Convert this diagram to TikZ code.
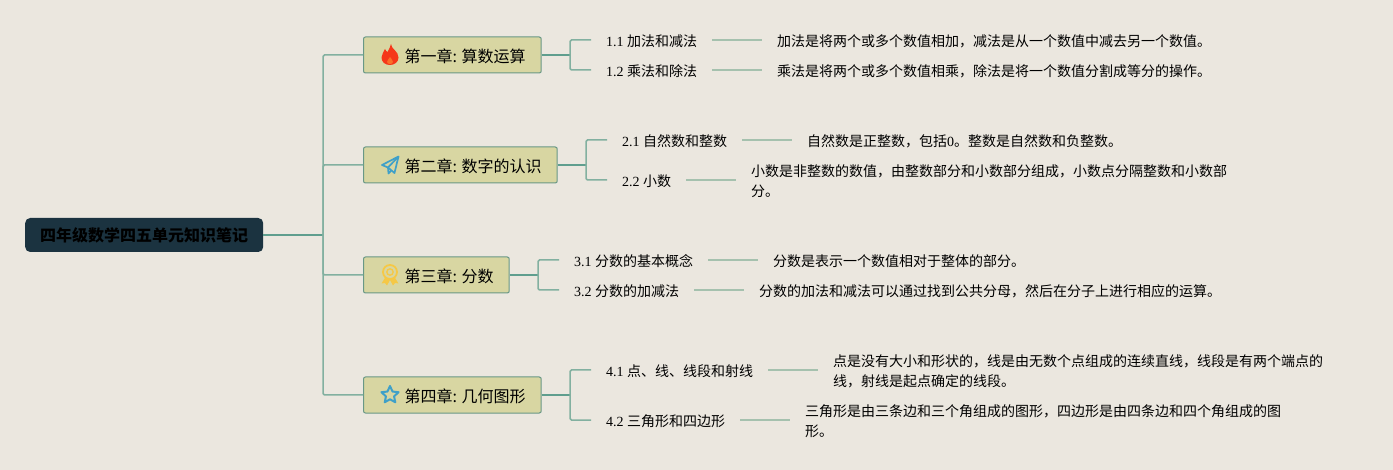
\documentclass[tikz,border=0pt]{standalone}
\usepackage{fontspec}
\setmainfont{Liberation Serif}
\newfontfamily\cjk{Noto Sans CJK SC}
\usetikzlibrary{
  shapes.geometric,
}
\definecolor{paper}{RGB}{235, 231, 223}
\definecolor{rootfill}{RGB}{27, 51, 64}
\definecolor{chapterfill}{RGB}{216, 214, 162}
\definecolor{chapterline}{RGB}{105, 152, 134}
\definecolor{stemline}{RGB}{95, 158, 142}
\definecolor{busline}{RGB}{130, 176, 160}
\definecolor{leafline}{RGB}{165, 193, 174}
\definecolor{iconblue}{RGB}{63, 160, 200}
\definecolor{iconyellow}{RGB}{245, 200, 70}
\definecolor{iconred}{RGB}{245, 55, 25}
\definecolor{iconember}{RGB}{250, 110, 40}
\tikzstyle{rootbox} = [
  anchor=west,
  fill=rootfill,
  rounded corners=5pt,
  minimum width=238pt,
  minimum height=34pt,
  inner sep=0pt,
  font=\fontsize{16}{20}\cjk\bfseries\selectfont,
  text=black,
]
\tikzstyle{chapterbox} = [
  anchor=west,
  draw=chapterline,
  line width=1pt,
  fill=chapterfill,
  rounded corners=2pt,
  minimum height=36pt,
  inner xsep=15.5pt,
  inner ysep=0pt,
  text height=17pt,
  text depth=2pt,
  font=\fontsize{16}{20}\cjk\selectfont,
]
\tikzstyle{leaftext} = [
  anchor=west,
  inner xsep=15pt,
  inner ysep=0pt,
  text height=16pt,
  text depth=2pt,
  font=\fontsize{14}{20}\selectfont,
]
\tikzstyle{desctext} = [
  leaftext,
]
\tikzstyle{desctall} = [
  anchor=west,
  inner xsep=15pt,
  inner ysep=0pt,
  align=left,
  font=\fontsize{14}{20}\selectfont,
]
\tikzstyle{stem} = [
  line width=1.6pt,
  stemline,
]
\tikzstyle{bus} = [
  line width=1.5pt,
  busline,
  rounded corners=1.5pt,
]
\tikzstyle{twig} = [
  line width=1.5pt,
  leafline,
]
\tikzset{
  flame/.pic={
    \fill [iconred] (1,-11) .. controls (1,-6) and (8.5,-4) .. (8.5,2.5)
      .. controls (8.5,7) and (4.5,10) .. (0,10)
      .. controls (-5,10) and (-8.5,7) .. (-8.5,2.5)
      .. controls (-8.5,-1) and (-6,-3) .. (-5,-6)
      .. controls (-4,-4) and (-3.5,-3.5) .. (-2.5,-3)
      .. controls (-1,-5) and (0,-8) .. (1,-11) -- cycle;
    \fill [iconember] (0,2) .. controls (1,4) and (3,5) .. (3,7)
      .. controls (3,8.5) and (1,9) .. (0,9)
      .. controls (-1,9) and (-3,8.5) .. (-3,7)
      .. controls (-3,5) and (-1,4) .. (0,2) -- cycle;
  },
  plane/.pic={
    \draw [iconblue, line width=1.7pt, line join=round]
      (8.5,-8.5) -- (-8,0) -- (-2,2.5) -- (4.5,8) -- cycle;
    \draw [iconblue, line width=1.7pt, line join=round]
      (8.5,-8.5) -- (-2,2.5) -- (-1.5,8.5) -- (1.2,5.5);
  },
  medal/.pic={
    \fill [iconyellow] (-4.5,2) -- (-8.5,8.5) -- (-5,8) -- (-3,10.5) -- (0,5)
      -- (3,10.5) -- (5,8) -- (8.5,8.5) -- (4.5,2) -- cycle;
    \draw [iconyellow, line width=1.8pt, fill=chapterfill] (0,-3) circle (7);
    \draw [iconyellow, line width=1.3pt] (0,-3) circle (3.2);
  },
}
\begin{document}
\begin{tikzpicture}[x=1pt, y=-1pt]
  \useasboundingbox [fill=paper] (0, 0) rectangle (1393, 470);

  \coordinate (spine) at (323, 235);
  \coordinate (bus1) at (570, 55);
  \coordinate (bus2) at (586, 165);
  \coordinate (bus3) at (538, 275);
  \coordinate (bus4) at (570, 395);

  \node [rootbox] (root) at (25, 235) {四年级数学四五单元知识笔记};

  \node [chapterbox] (ch1) at (363, 55) {\hspace*{25.5pt}第一章: 算数运算};
  \node [chapterbox] (ch2) at (363, 165) {\hspace*{25.5pt}第二章: 数字的认识};
  \node [chapterbox] (ch3) at (363, 275) {\hspace*{25.5pt}第三章: 分数};
  \node [chapterbox] (ch4) at (363, 395) {\hspace*{25.5pt}第四章: 几何图形};

  \pic at (390, 55) {flame};
  \pic at (390, 165) {plane};
  \pic at (390, 275) {medal};
  \node [star, star points=5, star point ratio=2.1, draw=iconblue, line width=2pt, line join=round, minimum size=18pt, inner sep=0pt] (starmark) at (390, 395) {};

  \node [leaftext] (leaf11) at (591, 40) {1.1 {\cjk 加法和减法}};
  \node [leaftext] (leaf12) at (591, 70) {1.2 {\cjk 乘法和除法}};
  \node [leaftext] (leaf21) at (607, 140) {2.1 {\cjk 自然数和整数}};
  \node [leaftext] (leaf22) at (607, 180) {2.2 {\cjk 小数}};
  \node [leaftext] (leaf31) at (559, 260) {3.1 {\cjk 分数的基本概念}};
  \node [leaftext] (leaf32) at (559, 290) {3.2 {\cjk 分数的加减法}};
  \node [leaftext] (leaf41) at (591, 370) {4.1 {\cjk 点、线、线段和射线}};
  \node [leaftext] (leaf42) at (591, 420) {4.2 {\cjk 三角形和四边形}};

  \node [desctext] (desc11) at (762, 40) {\cjk 加法是将两个或多个数值相加，减法是从一个数值中减去另一个数值。};
  \node [desctext] (desc12) at (762, 70) {\cjk 乘法是将两个或多个数值相乘，除法是将一个数值分割成等分的操作。};
  \node [desctext] (desc21) at (792, 140) {{\cjk 自然数是正整数，包括}0{\cjk 。整数是自然数和负整数。}};
  \node [desctall] (desc22) at (736, 181) {\cjk 小数是非整数的数值，由整数部分和小数部分组成，小数点分隔整数和小数部\\\cjk 分。};
  \node [desctext] (desc31) at (758, 260) {\cjk 分数是表示一个数值相对于整体的部分。};
  \node [desctext] (desc32) at (744, 290) {\cjk 分数的加法和减法可以通过找到公共分母，然后在分子上进行相应的运算。};
  \node [desctall] (desc41) at (818, 371) {\cjk 点是没有大小和形状的，线是由无数个点组成的连续直线，线段是有两个端点的\\\cjk 线，射线是起点确定的线段。};
  \node [desctall] (desc42) at (790, 421) {\cjk 三角形是由三条边和三个角组成的图形，四边形是由四条边和四个角组成的图\\\cjk 形。};

  \draw [stem] (root.east) -- (spine);
  \draw [bus] (spine) |- (ch1.west);
  \draw [bus] (spine) |- (ch2.west);
  \draw [bus] (spine) |- (ch3.west);
  \draw [bus] (spine) |- (ch4.west);

  \draw [stem] (ch1.east) -- (bus1);
  \draw [stem] (ch2.east) -- (bus2);
  \draw [stem] (ch3.east) -- (bus3);
  \draw [stem] (ch4.east) -- (bus4);

  \draw [bus] (bus1) |- (leaf11.west);
  \draw [bus] (bus1) |- (leaf12.west);
  \draw [bus] (bus2) |- (leaf21.west);
  \draw [bus] (bus2) |- (leaf22.west);
  \draw [bus] (bus3) |- (leaf31.west);
  \draw [bus] (bus3) |- (leaf32.west);
  \draw [bus] (bus4) |- (leaf41.west);
  \draw [bus] (bus4) |- (leaf42.west);

  \draw [twig] (leaf11.east) -- (leaf11.east -| desc11.west);
  \draw [twig] (leaf12.east) -- (leaf12.east -| desc12.west);
  \draw [twig] (leaf21.east) -- (leaf21.east -| desc21.west);
  \draw [twig] (leaf22.east) -- (leaf22.east -| desc22.west);
  \draw [twig] (leaf31.east) -- (leaf31.east -| desc31.west);
  \draw [twig] (leaf32.east) -- (leaf32.east -| desc32.west);
  \draw [twig] (leaf41.east) -- (leaf41.east -| desc41.west);
  \draw [twig] (leaf42.east) -- (leaf42.east -| desc42.west);
\end{tikzpicture}
\end{document}
